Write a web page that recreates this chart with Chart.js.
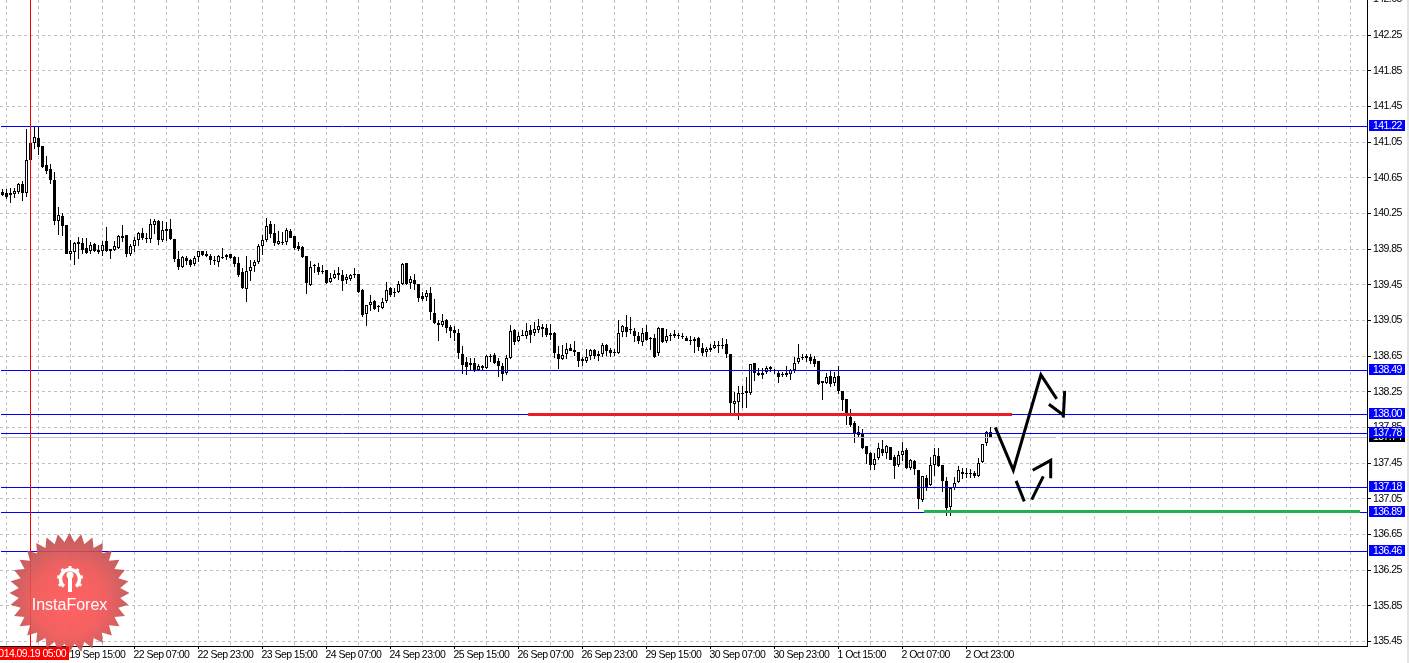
<!DOCTYPE html>
<html>
<head>
<meta charset="utf-8">
<style>
  html, body { margin: 0; padding: 0; background: #fff; }
  canvas { display: block; }
</style>
<script src="https://cdn.jsdelivr.net/npm/chart.js@4/dist/chart.umd.min.js"></script>
</head>
<body>
<canvas id="chart" width="1409" height="663"></canvas>
<script>
// hourly candles, bar 0 is the first one on the left
const opens = [
  140.49,140.48,140.46,140.47,140.49,140.58,140.48,141.04,141.04,141.10,
  141.01,140.79,140.75,140.62,140.17,140.22,140.12,139.79,139.82,139.91,
  139.92,139.86,139.83,139.91,139.84,139.83,139.94,139.83,139.84,139.86,
  140.00,140.01,139.80,139.89,139.95,140.03,139.98,139.96,140.12,140.17,
  139.95,140.07,140.07,139.96,139.74,139.65,139.75,139.73,139.68,139.76,
  139.83,139.80,139.77,139.73,139.71,139.76,139.78,139.79,139.76,139.69,
  139.59,139.40,139.61,139.66,139.71,139.88,139.95,140.13,140.03,139.91,
  139.93,139.93,140.05,140.00,139.88,139.87,139.77,139.45,139.67,139.65,
  139.61,139.62,139.48,139.53,139.58,139.56,139.50,139.52,139.57,139.57,
  139.39,139.12,139.22,139.27,139.21,139.19,139.27,139.41,139.37,139.37,
  139.46,139.69,139.47,139.50,139.46,139.32,139.31,139.36,139.13,139.02,
  139.00,139.06,138.98,138.94,138.91,138.67,138.58,138.57,138.57,138.49,
  138.54,138.52,138.65,138.66,138.60,138.54,138.46,138.63,138.94,138.82,
  138.89,138.88,138.94,138.91,138.94,138.98,138.97,138.91,138.91,138.67,
  138.62,138.67,138.74,138.72,138.70,138.59,138.60,138.65,138.72,138.65,
  138.67,138.77,138.72,138.70,138.68,138.92,138.98,138.95,138.93,138.87,
  138.81,138.92,138.85,138.85,138.69,138.96,138.82,138.89,138.87,138.89,
  138.88,138.85,138.83,138.82,138.85,138.74,138.70,138.74,138.74,138.77,
  138.78,138.79,138.67,138.11,138.13,138.24,138.26,138.24,138.57,138.46,
  138.46,138.47,138.53,138.49,138.46,138.45,138.46,138.45,138.49,138.58,
  138.64,138.63,138.64,138.62,138.59,138.37,138.35,138.43,138.35,138.43,
  138.26,138.17,137.97,137.90,137.80,137.79,137.64,137.56,137.43,137.51,
  137.61,137.56,137.63,137.52,137.43,137.54,137.60,137.39,137.47,137.37,
  137.04,137.28,137.20,137.43,137.53,137.43,137.25,136.96,137.17,137.24,
  137.35,137.34,137.34,137.34,137.31,137.46,137.67,137.80
];
const highs = [
  140.52,140.52,140.53,140.53,140.59,140.61,141.20,141.21,141.22,141.22,
  141.01,140.90,140.81,140.71,140.32,140.26,140.12,139.95,139.93,139.99,
  139.98,139.98,139.93,139.92,139.90,139.94,140.10,139.85,139.94,140.01,
  140.12,140.01,139.91,139.99,140.04,140.09,140.03,140.19,140.19,140.18,
  140.16,140.15,140.19,139.96,139.83,139.77,139.77,139.74,139.77,139.83,
  139.83,139.83,139.79,139.77,139.78,139.86,139.80,139.80,139.77,139.76,
  139.64,139.77,139.73,139.73,139.91,140.01,140.20,140.16,140.13,140.05,
  140.04,140.09,140.07,140.00,139.93,139.89,139.77,139.72,139.68,139.69,
  139.67,139.62,139.58,139.62,139.65,139.62,139.57,139.57,139.64,139.57,
  139.40,139.22,139.34,139.28,139.22,139.30,139.48,139.42,139.41,139.49,
  139.69,139.69,139.55,139.57,139.46,139.37,139.39,139.42,139.29,139.05,
  139.12,139.07,139.00,138.99,138.95,138.76,138.64,138.63,138.63,138.56,
  138.55,138.66,138.67,138.68,138.63,138.57,138.66,139.00,138.95,138.92,
  138.94,139.02,139.00,139.03,139.07,139.01,139.01,139.01,138.92,138.76,
  138.77,138.80,138.79,138.82,138.70,138.64,138.73,138.73,138.73,138.71,
  138.80,138.79,138.74,138.73,139.05,139.00,139.11,139.09,138.96,138.92,
  138.97,139.00,138.86,138.90,138.98,138.97,138.95,138.91,138.94,138.91,
  138.91,138.88,138.87,138.86,138.86,138.80,138.75,138.79,138.82,138.82,
  138.85,138.84,138.67,138.25,138.31,138.32,138.41,138.56,138.57,138.52,
  138.52,138.54,138.54,138.50,138.49,138.47,138.54,138.51,138.64,138.79,
  138.67,138.67,138.67,138.65,138.60,138.37,138.46,138.48,138.47,138.54,
  138.26,138.17,138.06,137.92,137.87,137.83,137.64,137.57,137.56,137.67,
  137.71,137.65,137.63,137.54,137.59,137.69,137.62,137.50,137.49,137.37,
  137.31,137.32,137.52,137.62,137.62,137.43,137.29,137.17,137.29,137.42,
  137.40,137.39,137.38,137.36,137.51,137.66,137.81,137.86
];
const lows = [
  140.45,140.41,140.37,140.42,140.47,140.39,140.44,140.84,140.97,140.91,
  140.76,140.69,140.58,140.12,140.01,140.00,139.79,139.73,139.67,139.74,
  139.79,139.80,139.79,139.82,139.79,139.77,139.82,139.74,139.83,139.85,
  139.93,139.76,139.77,139.82,139.89,139.95,139.92,139.92,140.02,139.90,
  139.93,139.94,139.95,139.70,139.62,139.64,139.67,139.65,139.66,139.71,
  139.77,139.76,139.67,139.67,139.65,139.74,139.73,139.74,139.65,139.54,
  139.40,139.26,139.49,139.59,139.68,139.78,139.93,139.97,139.89,139.90,
  139.90,139.90,139.97,139.84,139.83,139.75,139.35,139.44,139.58,139.56,
  139.57,139.46,139.47,139.52,139.50,139.38,139.46,139.49,139.53,139.36,
  139.09,138.99,139.16,139.17,139.15,139.18,139.25,139.31,139.31,139.36,
  139.45,139.45,139.40,139.39,139.26,139.27,139.27,139.06,139.01,138.82,
  138.98,138.91,138.85,138.82,138.62,138.45,138.44,138.48,138.47,138.48,
  138.49,138.51,138.58,138.56,138.41,138.37,138.44,138.62,138.77,138.81,
  138.87,138.84,138.80,138.87,138.91,138.86,138.86,138.83,138.63,138.50,
  138.61,138.62,138.71,138.65,138.53,138.54,138.57,138.61,138.62,138.59,
  138.64,138.65,138.64,138.65,138.67,138.86,138.86,138.90,138.81,138.79,
  138.76,138.82,138.72,138.63,138.65,138.80,138.80,138.82,138.85,138.84,
  138.84,138.82,138.78,138.69,138.71,138.65,138.64,138.70,138.73,138.68,
  138.73,138.63,138.00,138.00,137.93,138.07,138.07,138.21,138.37,138.43,
  138.39,138.45,138.47,138.45,138.35,138.41,138.42,138.38,138.46,138.56,
  138.61,138.58,138.56,138.53,138.33,138.16,138.34,138.30,138.32,138.22,
  138.03,137.88,137.85,137.68,137.73,137.61,137.44,137.37,137.37,137.49,
  137.53,137.50,137.49,137.27,137.41,137.47,137.38,137.37,137.32,136.94,
  137.01,137.14,137.19,137.31,137.41,137.13,136.86,136.86,137.15,137.23,
  137.27,137.28,137.28,137.28,137.29,137.45,137.64,137.74
];
const closes = [
  140.46,140.44,140.48,140.50,140.58,140.48,140.85,140.85,141.11,141.00,
  140.77,140.73,140.62,140.16,140.23,140.11,139.80,139.83,139.92,139.93,
  139.84,139.81,139.90,139.83,139.82,139.90,139.83,139.85,139.88,140.00,
  139.98,139.79,139.89,139.95,140.03,139.97,139.96,140.13,140.16,139.95,
  140.06,140.05,139.96,139.74,139.65,139.76,139.72,139.67,139.75,139.83,
  139.78,139.77,139.73,139.72,139.77,139.75,139.76,139.75,139.68,139.56,
  139.41,139.61,139.65,139.71,139.88,139.95,140.11,140.02,139.92,139.94,
  139.92,140.06,139.98,139.86,139.85,139.76,139.47,139.65,139.66,139.59,
  139.59,139.47,139.53,139.57,139.56,139.49,139.54,139.56,139.56,139.37,
  139.11,139.22,139.26,139.18,139.20,139.26,139.39,139.34,139.36,139.46,
  139.68,139.46,139.51,139.46,139.30,139.29,139.36,139.14,139.02,139.00,
  139.04,138.96,138.93,138.91,138.68,138.55,138.53,138.55,138.49,138.54,
  138.52,138.65,138.64,138.57,138.54,138.45,138.63,138.93,138.81,138.88,
  138.88,138.93,138.89,138.95,138.99,138.95,138.89,138.89,138.68,138.62,
  138.66,138.73,138.71,138.70,138.60,138.62,138.64,138.72,138.65,138.67,
  138.77,138.71,138.69,138.69,138.91,138.99,138.92,138.94,138.87,138.82,
  138.91,138.83,138.84,138.64,138.97,138.81,138.87,138.87,138.90,138.88,
  138.86,138.82,138.82,138.84,138.75,138.68,138.73,138.72,138.77,138.76,
  138.76,138.67,138.12,138.15,138.24,138.22,138.24,138.56,138.46,138.44,
  138.44,138.52,138.50,138.48,138.42,138.44,138.44,138.49,138.57,138.63,
  138.63,138.65,138.60,138.56,138.34,138.35,138.42,138.34,138.42,138.26,
  138.16,137.98,137.88,137.79,137.77,137.62,137.55,137.43,137.50,137.62,
  137.56,137.64,137.49,137.42,137.54,137.58,137.40,137.48,137.38,137.05,
  137.30,137.18,137.43,137.54,137.42,137.25,136.95,137.17,137.23,137.37,
  137.33,137.33,137.33,137.30,137.45,137.66,137.80,137.74
];

// axis labels
const priceTicks = [142.65,142.25,141.85,141.45,141.05,140.65,140.25,139.85,139.45,139.05,138.65,138.25,137.85,137.45,137.05,136.65,136.25,135.85,135.45];
const timeTickBars = [17,33,49,65,81,97,113,129,145,161,177,193,209,225,241];
const timeTickLabels = ['19 Sep 15:00','22 Sep 07:00','22 Sep 23:00','23 Sep 15:00','24 Sep 07:00','24 Sep 23:00','25 Sep 15:00','26 Sep 07:00','26 Sep 23:00','29 Sep 15:00','30 Sep 07:00','30 Sep 23:00','1 Oct 15:00','2 Oct 07:00','2 Oct 23:00'];
const gridBars = [1,9,17,25,33,41,49,57,65,73,81,89,97,105,113,121,129,137,145,153,161,169,177,185,193,201,209,217,225,233,241,249,257,265,273,281,289,297,305,313,321,329,337];

// objects drawn on the chart
const levels = [141.22, 138.49, 138.00, 137.78, 137.18, 136.89, 136.46];
const bidPrice = 137.74;
const cursorBar = 7;
const cursorLabel = '2014.09.19 05:00';
const redSegment = { bars: [131.4, 252.4], price: 138.00 };
const greenSegment = { bars: [230.4, 339.4], price: 136.91 };
// hand drawn arrows: bar position and price of each stroke
const arrowBars = [
  [248.2, 252.7, 259.6, 263.55],
  [261.6, 265.2],
  [265.55, 265.2],
  [253.4, 255.45],
  [257.3, 260.2],
  [257.55, 262.05, 262.05]
];
const arrowPrices = [
  [137.85, 137.37, 138.44, 138.17],
  [138.11, 137.99],
  [138.26, 137.96],
  [137.25, 137.02],
  [137.04, 137.30],
  [137.37, 137.48, 137.28]
];

const PRICE_MIN = 135.3981;
const PRICE_MAX = 142.6443;
const FONT = '"Liberation Sans"';
const FONT_SIZE = 10.5;
const BLUE = '#0000ff';

const pts = (bars, prices) => bars.map((b, i) => ({ x: b, y: prices[i] }));
const hline = (x0, x1, p) => [{ x: x0, y: p }, { x: x1, y: p }];

function lineSet(data, color, width, order, snap) {
  return { type: 'line', data, borderColor: color, borderWidth: width, pointRadius: 0, tension: 0, order, snap, fill: false, spanGaps: true };
}

const datasets = [];
// wicks and bodies are floating bars
datasets.push({
  type: 'bar', order: 20, grouped: false, barThickness: 1, inflateAmount: 0, borderWidth: 0,
  backgroundColor: '#000', snap: 'bar',
  data: highs.map((h, i) => ({ x: i, y: [lows[i], h] }))
});
datasets.push({
  type: 'bar', order: 19, grouped: false, barThickness: 3, inflateAmount: 0, borderWidth: 1, borderSkipped: false,
  borderColor: '#000', snap: 'bar',
  backgroundColor: closes.map((c, i) => c > opens[i] ? '#fff' : '#000'),
  data: opens.map((o, i) => ({ x: i, y: [Math.min(o, closes[i]), Math.max(o, closes[i])] }))
});
// bid line has a small break in the picture
datasets.push(lineSet(hline(-0.375, 263.4, bidPrice), '#c0c0c0', 1, 12, 'line'));
datasets.push(lineSet(hline(264.6, 341.125, bidPrice), '#c0c0c0', 1, 12, 'line'));
levels.forEach(p => datasets.push(lineSet(hline(-0.375, 341.125, p), BLUE, 1, 10, 'line')));
datasets.push(lineSet(hline(redSegment.bars[0], redSegment.bars[1], redSegment.price), '#ed1c24', 3, 6, 'line'));
datasets.push(lineSet(hline(greenSegment.bars[0], greenSegment.bars[1], greenSegment.price), '#22b14c', 3, 6, 'line'));
arrowBars.forEach((b, i) => datasets.push(lineSet(pts(b, arrowPrices[i]), '#000', 3, 5)));
datasets.push(lineSet([{ x: cursorBar, y: PRICE_MIN }, { x: cursorBar, y: PRICE_MAX }], '#ff0000', 1, 1));

// line up the marks on whole pixels, otherwise everything looks blurred
const snapPlugin = {
  id: 'snap',
  beforeDraw(chart) {
    // the original font is narrower, tighten the text a bit
    chart.ctx.letterSpacing = '-0.55px';
  },
  beforeDatasetsDraw(chart) {
    chart.data.datasets.forEach((ds, i) => {
      const els = chart.getDatasetMeta(i).data;
      if (ds.snap === 'bar') {
        els.forEach(el => {
          el.y = Math.round(el.y);
          el.base = Math.round(el.base);
          if (el.base === el.y) el.base = el.y + 1;
        });
      } else if (ds.snap === 'line') {
        els.forEach(el => { el.y = Math.floor(el.y) + 0.5; });
      }
    });
  }
};

// InstaForex badge
const logoPlugin = {
  id: 'logo',
  afterDatasetsDraw(chart) {
    const ctx = chart.ctx;
    const cx = 69.5, cy = 593, spikes = 32;
    ctx.save();
    ctx.letterSpacing = '0px';
    ctx.globalAlpha = 0.9;
    const g = ctx.createRadialGradient(cx, cy + 14, 8, cx, cy + 4, 64);
    g.addColorStop(0, '#ff5050');
    g.addColorStop(0.5, '#f05050');
    g.addColorStop(1, '#b84f4f');
    ctx.fillStyle = g;
    ctx.beginPath();
    for (let i = 0; i < spikes * 2; i++) {
      const r = i % 2 ? 51 : 60;
      const a = Math.PI * i / spikes - Math.PI / 2;
      ctx.lineTo(cx + r * Math.cos(a), cy + r * Math.sin(a));
    }
    ctx.closePath();
    ctx.fill();
    ctx.globalAlpha = 1;
    // gear
    const gx = 70, gy = 579;
    ctx.strokeStyle = '#fff';
    ctx.fillStyle = '#fff';
    ctx.lineWidth = 3.5;
    ctx.beginPath();
    ctx.arc(gx, gy, 9.5, Math.PI * 0.72, Math.PI * 0.28 + Math.PI * 2);
    ctx.stroke();
    ctx.lineWidth = 3;
    for (let i = 0; i < 9; i++) {
      const a = -Math.PI / 2 + i * Math.PI / 4.5;
      if (Math.sin(a) > 0.8) continue;
      ctx.beginPath();
      ctx.moveTo(gx + 9.5 * Math.cos(a), gy + 9.5 * Math.sin(a));
      ctx.lineTo(gx + 13 * Math.cos(a), gy + 13 * Math.sin(a));
      ctx.stroke();
    }
    ctx.fillRect(gx - 2, gy - 3, 4, 16);
    ctx.beginPath();
    ctx.arc(gx, gy - 4, 3.5, 0, Math.PI * 2);
    ctx.fill();
    ctx.font = '16px "Liberation Sans"';
    ctx.textAlign = 'center';
    ctx.textBaseline = 'alphabetic';
    ctx.fillText('InstaForex', 69.5, 610);
    ctx.restore();
  }
};

// price tags on the right and the red time tag
const tagPlugin = {
  id: 'tags',
  afterDraw(chart) {
    const ctx = chart.ctx;
    const y = chart.scales.y;
    const tag = (p, bg) => {
      const row = Math.floor(y.getPixelForValue(p));
      ctx.fillStyle = bg;
      ctx.fillRect(1369, row - 6, 36, 11);
      ctx.fillStyle = '#fff';
      ctx.font = FONT_SIZE + 'px ' + FONT;
      ctx.textAlign = 'left';
      ctx.textBaseline = 'middle';
      ctx.fillText(p.toFixed(2), 1373, row);
    };
    ctx.save();
    tag(bidPrice, '#000');
    levels.forEach(p => tag(p, BLUE));
    ctx.fillStyle = '#ff0000';
    ctx.fillRect(0, 647, 69, 13);
    ctx.fillStyle = '#fff';
    ctx.font = FONT_SIZE + 'px ' + FONT;
    ctx.textAlign = 'right';
    ctx.textBaseline = 'middle';
    ctx.fillText(cursorLabel, 66, 654);
    // thin frame at the right edge of the window
    ctx.fillStyle = '#e4e4e4';
    ctx.fillRect(1407, 0, 2, 663);
    ctx.restore();
  }
};

new Chart(document.getElementById('chart'), {
  data: { datasets },
  plugins: [snapPlugin, logoPlugin, tagPlugin],
  options: {
    responsive: false,
    animation: false,
    devicePixelRatio: 1,
    layout: { padding: 0 },
    events: [],
    plugins: { legend: { display: false }, tooltip: { enabled: false }, title: { display: false } },
    scales: {
      x: {
        type: 'linear',
        offset: false,
        min: -0.625,
        max: 341.125,
        afterFit: s => { s.height = 17; s.paddingLeft = 0; s.paddingRight = 0; },
        afterBuildTicks: s => { s.ticks = gridBars.map(v => ({ value: v })); },
        grid: {
          offset: false,
          color: '#c0c0c0',
          tickLength: 3,
          tickWidth: 1,
          tickBorderDash: [],
          // marks only under the labelled lines
          tickColor: c => c.tick && (c.tick.value - 1) % 16 === 0 && c.tick.value <= 241 ? '#000' : 'transparent'
        },
        border: { color: '#000', dash: [3, 3] },
        ticks: {
          z: 1,
          autoSkip: false,
          maxRotation: 0,
          minRotation: 0,
          align: 'start',
          labelOffset: -1,
          padding: 0,
          color: '#000',
          font: { family: FONT, size: FONT_SIZE },
          callback: v => {
            const k = timeTickBars.indexOf(v);
            return k < 0 ? '' : timeTickLabels[k];
          }
        }
      },
      y: {
        type: 'linear',
        position: 'right',
        min: PRICE_MIN,
        max: PRICE_MAX,
        afterFit: s => { s.width = 42; s.paddingTop = 0; s.paddingBottom = 0; },
        afterBuildTicks: s => { s.ticks = priceTicks.map(v => ({ value: v })); },
        grid: { color: '#c0c0c0', tickLength: 4, tickWidth: 1, tickColor: '#000', tickBorderDash: [] },
        border: { color: '#000', dash: [3, 3] },
        ticks: {
          autoSkip: false,
          padding: 2,
          color: '#000',
          font: { family: FONT, size: FONT_SIZE },
          callback: v => v.toFixed(2)
        }
      }
    }
  }
});
</script>
</body>
</html>
